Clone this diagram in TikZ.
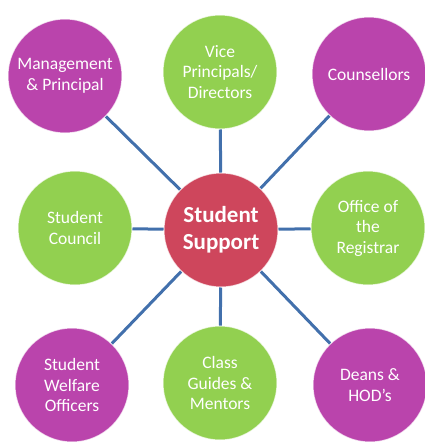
\documentclass[tikz,border=0pt]{standalone}
\usepackage{fontspec}
\setmainfont{Carlito}
\usepackage{tikz}
\usetikzlibrary{positioning}
\definecolor{hubred}{RGB}{206,70,92}
\definecolor{leafgreen}{RGB}{146,208,80}
\definecolor{leafpurple}{RGB}{186,68,172}
\definecolor{linkblue}{RGB}{66,112,172}

\tikzset{
  bubble/.style={circle, minimum size=114pt, inner sep=0pt, align=center,
    text=white, draw=white, draw opacity=0.7, line width=1pt,
    font=\fontsize{17.5}{20.5}\selectfont},
  greenbubble/.style={bubble, fill=leafgreen},
  purplebubble/.style={bubble, fill=leafpurple},
  hub/.style={bubble, fill=hubred, font=\fontsize{23}{27}\selectfont\bfseries},
  link/.style={draw=linkblue, line width=3pt}
}

\begin{document}
\begin{tikzpicture}[x=1pt, y=-1pt]
      \useasboundingbox (0,0) rectangle (424,442);

      \node[hub] (support) at (221,230) {Student\\Support};

      \node[purplebubble] (mgmt) at (65,76) {Management\\\& Principal};
      \node[greenbubble] (vice) at (220,72) {Vice\\Principals/\\Directors};
      \node[purplebubble] (couns) at (369,74) {Counsellors};
      \node[greenbubble] (council) at (75,228) {Student\\Council};
      \node[greenbubble] (registrar) at (368,228) {Office of\\the\\Registrar};
      \node[purplebubble] (welfare) at (72,385) {Student\\Welfare\\Officers};
      \node[greenbubble] (classg) at (220,383) {Class\\Guides \&\\Mentors};
      \node[purplebubble] (deans) at (370,385) {Deans \&\\HOD’s};

      \draw[link] (support) -- (mgmt);
      \draw[link] (support) -- (vice);
      \draw[link] (support) -- (couns);
      \draw[link] (support) -- (council);
      \draw[link] (support) -- (registrar);
      \draw[link] (support) -- (welfare);
      \draw[link] (support) -- (classg);
      \draw[link] (support) -- (deans);
    \end{tikzpicture}
\end{document}
